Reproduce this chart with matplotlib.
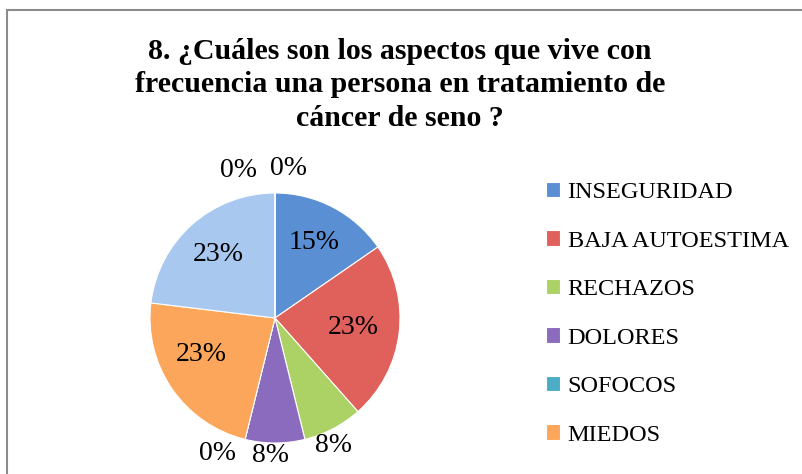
import numpy as np
import matplotlib
matplotlib.use('Agg')
import matplotlib.pyplot as plt
from matplotlib.patches import Rectangle

# data (13 respuestas)
categorias = ['INSEGURIDAD', 'BAJA AUTOESTIMA', 'RECHAZOS', 'DOLORES', 'SOFOCOS',
              'MIEDOS', 'OTRO 1', 'OTRO 2', 'OTRO 3']
respuestas = [2, 3, 1, 1, 0, 3, 3, 0, 0]
etiquetas = ['15%', '23%', '8%', '8%', '0%', '23%', '23%', '0%', '0%']
colores = ['#5b8fd4', '#e0605c', '#acd165', '#8a6bbd', '#4bacc6',
           '#fba65a', '#a9c8ef', '#e59a98', '#c6dd9a']
titulo = '8. ¿Cuáles son los aspectos que vive con\nfrecuencia una persona en tratamiento de\ncáncer de seno ?'

# label placement (radius, angular nudge in degrees)
lab_r = [0.68, 0.63, 1.12, 1.1, 1.18, 0.66, 0.68, 1.22, 1.2]
lab_nudge = [0, 0, -3, -2, -9, -8, 0, 14, -5]

plt.rcParams['font.family'] = ['Liberation Serif', 'DejaVu Serif']

W, H = 802, 474
fig = plt.figure(figsize=(W / 100, H / 100), dpi=100)

# frame around the chart
fig.patches.append(Rectangle((7 / W, -0.1), 1.2, (H - 10) / H + 0.1, transform=fig.transFigure,
                             fill=False, edgecolor='#8c8c8c', linewidth=1.5))

fig.text(0.4988, 1 - 85 / H, titulo, ha='center', va='center', fontsize=21.5,
         fontweight='bold', linespacing=1.3)

# pie axes centered at (275, 318) px, radius 125 px
cx, cy, half = 275, 318, 150
ax = fig.add_axes([(cx - half) / W, (H - cy - half) / H, 2 * half / W, 2 * half / H])
wedges, _ = ax.pie(respuestas, colors=colores, startangle=90, counterclock=False,
                   radius=1, wedgeprops=dict(edgecolor='white', linewidth=0.8))
ax.set_xlim(-1.2, 1.2)
ax.set_ylim(-1.2, 1.2)
ax.set_aspect('equal')
ax.axis('off')

for w, lab, r, dn in zip(wedges, etiquetas, lab_r, lab_nudge):
    ang = np.deg2rad((w.theta1 + w.theta2) / 2 + dn)
    ax.text(r * np.cos(ang), r * np.sin(ang), lab, ha='center', va='center', fontsize=20)

# legend only shows the first six series (truncated in the original)
fig.legend(wedges[:6], categorias[:6], loc='upper left', bbox_to_anchor=(536 / W, 1 - 172 / H),
           frameon=False, fontsize=17.5, handlelength=0.6, handleheight=0.6,
           handletextpad=0.3, labelspacing=1.12, borderaxespad=0)

plt.savefig('out.png', dpi=100)
